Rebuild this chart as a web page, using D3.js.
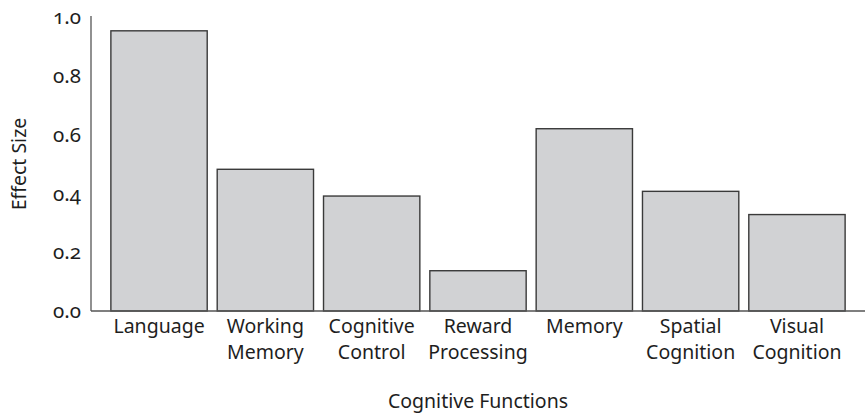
<!DOCTYPE html>
<html>
<head>
<meta charset="utf-8">
<script src="https://cdn.jsdelivr.net/npm/d3@7"></script>
<style>
  html, body { margin: 0; padding: 0; background: #fff; }
  svg { display: block; }
  text { font-family: "Noto Sans", "Open Sans", sans-serif; fill: #1e1e1e; }
  .num { font-feature-settings: "onum" 1; font-variant-numeric: oldstyle-nums; }
</style>
</head>
<body>
<svg id="chart" width="865" height="414"></svg>
<script>
const categories = [["Language"], ["Working", "Memory"], ["Cognitive", "Control"], ["Reward", "Processing"], ["Memory"], ["Spatial", "Cognition"], ["Visual", "Cognition"]];
const values = [0.953, 0.482, 0.391, 0.137, 0.620, 0.407, 0.328];
const yTicks = [0.0, 0.2, 0.4, 0.6, 0.8, 1.0];
const xTitle = "Cognitive Functions";
const yTitle = "Effect Size";

(function () {
const svg = d3.select("#chart");
const mLeft = 91, mRight = 865, mTop = 17, mBottom = 311;
const keys = categories.map(c => c.join(" "));
const fs = "19.5px";

const x = d3.scaleBand().domain(keys).range([mLeft, mRight]).paddingInner(0.094).paddingOuter(0.187);
const y = d3.scaleLinear().domain([0, 1]).range([mBottom, mTop]);

// bars
svg.append("g").selectAll("rect").data(values).join("rect")
  .attr("x", (d, i) => x(keys[i]))
  .attr("y", d => y(d))
  .attr("width", x.bandwidth())
  .attr("height", d => y(0) - y(d))
  .attr("fill", "#d1d2d4")
  .attr("stroke", "#3a3a3a")
  .attr("stroke-width", 1.4);

// y axis
const yAxis = svg.append("g").attr("transform", `translate(${mLeft},0)`)
  .call(d3.axisLeft(y).tickValues(yTicks).tickFormat(d3.format(".1f")).tickSize(0).tickPadding(10));
yAxis.select(".domain").attr("stroke", "#555").attr("stroke-width", 1.3).attr("d", `M0,${y(1) - 1}V${y(0)}`);
yAxis.selectAll("text").attr("class", "num").style("font-size", "20.5px").attr("fill", "#1e1e1e").attr("dy", "0.33em");

// x axis
const xAxis = svg.append("g").attr("transform", `translate(0,${mBottom})`)
  .call(d3.axisBottom(x).tickSize(0).tickFormat(""));
xAxis.select(".domain").attr("stroke", "#555").attr("stroke-width", 1.3).attr("d", `M${mLeft},0H${mRight}`);
xAxis.selectAll(".tick").each(function(d, i) {
  const t = d3.select(this).append("text")
    .attr("text-anchor", "middle")
    .style("font-size", fs)
    .attr("fill", "#1e1e1e");
  categories[i].forEach((line, j) => {
    t.append("tspan").attr("x", 0).attr("y", 22 + j * 26).text(line);
  });
});

// titles
svg.append("text").attr("x", (mLeft + mRight) / 2).attr("y", 408)
  .attr("text-anchor", "middle").style("font-size", fs).text(xTitle);
svg.append("text").attr("transform", `translate(26,${(mTop + mBottom) / 2}) rotate(-90)`)
  .attr("text-anchor", "middle").style("font-size", fs).text(yTitle);
})();
</script>
</body>
</html>
